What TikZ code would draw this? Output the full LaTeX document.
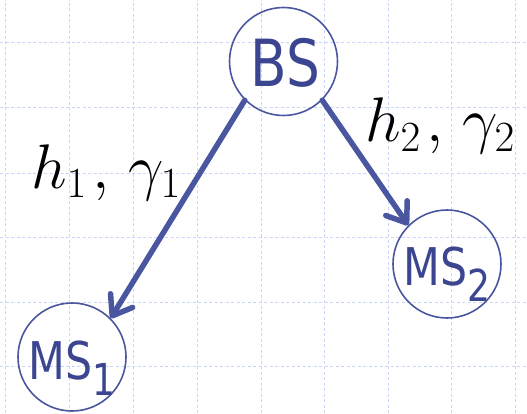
\RequirePackage{fix-cm}
\documentclass[tikz,border=0pt]{standalone}
\usepackage{fontspec}
\newfontfamily\labfont[FakeStretch=0.82]{DejaVu Sans}
\usetikzlibrary{arrows.meta}
\DeclareMathSizes{63}{63}{43}{32}
\definecolor{txtblue}{HTML}{3C4690}
\definecolor{lineblue}{HTML}{4A56A0}
\definecolor{gridblue}{HTML}{C9D6FA}
\tikzset{
  gridline/.style={gridblue, line width=1pt, dash pattern=on 3pt off 2.5pt},
  station/.style={circle, draw=lineblue, line width=1.6pt, minimum size=108pt, inner sep=0pt},
  bstext/.style={text=txtblue, inner sep=0pt, font=\labfont\fontsize{65}{70}\selectfont},
  mstext/.style={text=txtblue, inner sep=0pt, font=\labfont\fontsize{52}{60}\selectfont},
  link/.style={lineblue, line width=5.5pt, line cap=round, line join=round,
    -{Straight Barb[length=18pt,width=26pt,round]}},
  mathlabel/.style={text=black, inner sep=0pt, font=\fontsize{63}{70}\selectfont}
}
\newcommand{\msub}[1]{\raisebox{-16pt}{\fontsize{44}{44}\selectfont #1}}
\newcommand{\chlabel}[2]{$#1\mkern1.5mu,\mkern2.5mu#2$}
\begin{document}
\begin{tikzpicture}[x=1pt,y=1pt]
\useasboundingbox (0,0) rectangle (527,413);
% grid
\foreach \gx in {5,69,133,197,261,324,388,451,515}
  \draw[gridline] (\gx,0) -- (\gx,413);
\foreach \gy in {370,305,240,176,111,47}
  \draw[gridline] (0,\gy) -- (527,\gy);
% stations
\node[station] (BS) at (283.5,351.5) {};
\node[station] (MS1) at (72,56) {};
\node[station] (MS2) at (447,149) {};
\node[bstext, anchor=base] (BSt) at ([xshift=2pt,yshift=-25.5pt]BS.center) {BS};
\node[mstext, anchor=base] (MS1t) at ([yshift=-22pt]MS1.center) {MS\msub{1}};
\node[mstext, anchor=base] (MS2t) at ([yshift=-21pt]MS2.center) {MS\msub{2}};
% links
\draw[link] (BS.225) -- (MS1.45);
\draw[link] (BS.-45) -- (MS2.135);
% labels
\node[mathlabel, anchor=base west] (L1) at (31,225) {\chlabel{h_1}{\gamma_1}};
\node[mathlabel, anchor=base west] (L2) at (365,271) {\chlabel{h_2}{\gamma_2}};
\end{tikzpicture}
\end{document}
